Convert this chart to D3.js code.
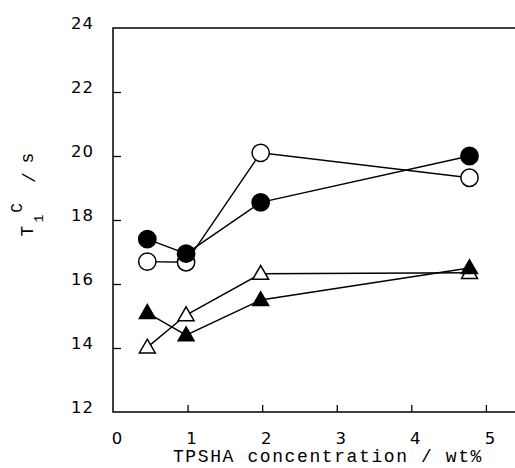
<!DOCTYPE html>
<html><head><meta charset="utf-8">
<script src="https://cdn.jsdelivr.net/npm/d3@7"></script>
<style>body{margin:0;background:#fff}svg{display:block}</style>
</head><body>
<script>
const xVals = [0.46, 0.98, 1.98, 4.78];
const filledCircle = [17.4, 16.95, 18.55, 20.0];
const openCircle = [16.7, 16.68, 20.1, 19.32];
const filledTriangle = [15.1, 14.4, 15.5, 16.5];
const openTriangle = [14.02, 15.03, 16.32, 16.35];
const xTicks = [0, 1, 2, 3, 4, 5];
const yTicks = [12, 14, 16, 18, 20, 22, 24];

const W = 515, H = 468;
const svg = d3.select("body").append("svg").attr("width", W).attr("height", H);
const x = d3.scaleLinear().domain([0, 5.39]).range([113, 515]);
const y = d3.scaleLinear().domain([12, 24]).range([412, 28]);

// frame: left, top, bottom
svg.append("path").attr("d", `M515,${y(24)}H${x(0)}V${y(12)}H515`)
  .attr("fill", "none").attr("stroke", "#000").attr("stroke-width", 1.5);

const yAxis = svg.append("g").attr("transform", `translate(${x(0)},0)`)
  .call(d3.axisRight(y).tickValues(yTicks).tickSize(8).tickFormat(""));
yAxis.select(".domain").remove();
yAxis.selectAll("line").attr("stroke-width", 1.3);
yAxis.selectAll(".tick").filter(d => d === 24 || d === 12).select("line").remove();

const xAxis = svg.append("g").attr("transform", `translate(0,${y(12)})`)
  .call(d3.axisTop(x).tickValues(xTicks.filter(d => d > 0)).tickSize(7).tickFormat(""));
xAxis.select(".domain").remove();
xAxis.selectAll("line").attr("stroke-width", 1.3);

// tick labels
svg.append("g").selectAll("text").data(yTicks).join("text")
  .attr("x", 94).attr("y", d => y(d) - 4).attr("text-anchor", "end")
  .attr("dominant-baseline", "middle").attr("letter-spacing", 1)
  .attr("font-family", "DejaVu Sans").attr("font-size", 16.5).text(d => d);
svg.append("g").selectAll("text").data(xTicks).join("text")
  .attr("x", d => x(d) + 4).attr("y", 439).attr("text-anchor", "middle")
  .attr("dominant-baseline", "middle")
  .attr("font-family", "DejaVu Sans").attr("font-size", 16.5).text(d => d);

// axis titles
svg.append("text").attr("x", 328).attr("y", 462).attr("text-anchor", "middle")
  .attr("font-family", "Liberation Mono").attr("font-size", 18).attr("letter-spacing", 1.6)
  .text("TPSHA concentration / wt%");

const yt = svg.append("g").attr("transform", "rotate(-90)")
  .attr("font-family", "Liberation Mono").attr("text-anchor", "middle");
const ytParts = [
  {t: "T", sy: 231, sx: 33, fs: 18},
  {t: "1", sy: 218.5, sx: 43, fs: 13},
  {t: "C", sy: 208, sx: 22, fs: 16},
  {t: "/", sy: 177.5, sx: 35, fs: 18},
  {t: "s", sy: 158, sx: 33, fs: 18}
];
yt.selectAll("text").data(ytParts).join("text")
  .attr("x", d => -d.sy).attr("y", d => d.sx).attr("font-size", d => d.fs).text(d => d.t);

// series
const series = [
  {vals: openTriangle, shape: "tri", fill: "#fff"},
  {vals: filledTriangle, shape: "tri", fill: "#000"},
  {vals: openCircle, shape: "circ", fill: "#fff"},
  {vals: filledCircle, shape: "circ", fill: "#000"}
];
const line = d3.line().x(d => x(d[0])).y(d => y(d[1]));
series.forEach(s => {
  const pts = xVals.map((v, i) => [v, s.vals[i]]);
  svg.append("path").attr("d", line(pts)).attr("fill", "none")
    .attr("stroke", "#000").attr("stroke-width", 1.4);
});
series.forEach(s => {
  const pts = xVals.map((v, i) => [v, s.vals[i]]);
  const sym = s.shape === "tri" ? d3.symbol(d3.symbolTriangle, 110) : d3.symbol(d3.symbolCircle, 235);
  svg.append("g").selectAll("path").data(pts).join("path")
    .attr("transform", d => `translate(${x(d[0])},${y(d[1]) + (s.shape === "tri" ? 1 : 0)})`)
    .attr("d", sym).attr("fill", s.fill).attr("stroke", "#000").attr("stroke-width", 1.5);
});
</script>
</body></html>
